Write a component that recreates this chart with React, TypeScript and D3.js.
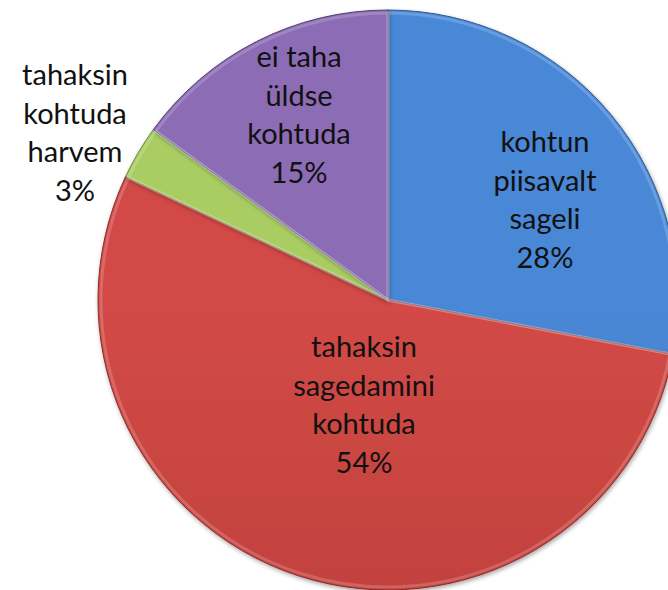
import React, { useEffect, useRef } from "react";
import * as d3 from "d3";

// Slice data, clockwise from 12 o'clock
const categories = [
  ["kohtun", "piisavalt", "sageli"],
  ["tahaksin", "sagedamini", "kohtuda"],
  ["tahaksin", "kohtuda", "harvem"],
  ["ei taha", "üldse", "kohtuda"],
];
const values = [28, 54, 3, 15];
const percentLabels = ["28%", "54%", "3%", "15%"];

const colorsTop = ["#4a88d6", "#d24a46", "#a9cd62", "#8c6cb4"];
const colorsBottom = ["#3a6cb0", "#b23936", "#8fae4c", "#6f559a"];
const colorsEdge = ["#2d5a94", "#8e2b29", "#6e8a38", "#523f75"];

const W = 668;
const H = 590;

const App = () => {
  const ref = useRef<SVGSVGElement>(null);

  useEffect(() => {
    const svg = d3.select(ref.current);
    svg.selectAll("*").remove();

    const cx = 388;
    const cy = 300;
    const r = 290;

    const defs = svg.append("defs");
    values.forEach((_, i) => {
      const g = defs
        .append("linearGradient")
        .attr("id", "grad" + i)
        .attr("gradientUnits", "userSpaceOnUse")
        .attr("x1", 0)
        .attr("y1", cy - r)
        .attr("x2", 0)
        .attr("y2", cy + r);
      g.append("stop").attr("offset", "0%").attr("stop-color", colorsTop[i]);
      g.append("stop").attr("offset", "100%").attr("stop-color", colorsBottom[i]);
    });
    const f = defs
      .append("filter")
      .attr("id", "shadow")
      .attr("x", "-10%")
      .attr("y", "-10%")
      .attr("width", "120%")
      .attr("height", "120%");
    f.append("feDropShadow")
      .attr("dx", 1)
      .attr("dy", 2)
      .attr("stdDeviation", 2)
      .attr("flood-color", "#000")
      .attr("flood-opacity", 0.35);

    const pie = d3
      .pie<number>()
      .sort(null)
      .value((d) => d)
      .startAngle(0)
      .endAngle(2 * Math.PI);
    const arcs = pie(values);

    const arc = d3.arc<d3.PieArcDatum<number>>().innerRadius(0).outerRadius(r);
    const bevel = d3
      .arc<d3.PieArcDatum<number>>()
      .innerRadius(0)
      .outerRadius(r - 3);

    const g = svg.append("g").attr("transform", `translate(${cx},${cy})`);

    g.selectAll("path.slice")
      .data(arcs)
      .join("path")
      .attr("class", "slice")
      .attr("d", arc)
      .attr("fill", (_, i) => `url(#grad${i})`)
      .attr("stroke", (_, i) => colorsEdge[i])
      .attr("stroke-width", 1)
      .attr("filter", "url(#shadow)");

    // soft bevel highlight
    g.selectAll("path.bevel")
      .data(arcs)
      .join("path")
      .attr("class", "bevel")
      .attr("d", bevel)
      .attr("fill", "none")
      .attr("stroke", "#ffffff")
      .attr("stroke-opacity", 0.18)
      .attr("stroke-width", 3);

    // label anchors: first baseline position relative to pie center
    const labelPos: [number, number][] = [
      [545 - cx, 152 - cy],
      [364 - cx, 357 - cy],
      [75 - cx, 85 - cy],
      [299 - cx, 67 - cy],
    ];
    const lineH = 38.7;

    arcs.forEach((a, i) => {
      const [lx, ly] = labelPos[i];
      const lines = [...categories[i], percentLabels[i]];
      const t = g
        .append("text")
        .attr("text-anchor", "middle")
        .attr("font-family", "Lato, 'Open Sans', sans-serif")
        .attr("font-size", 29)
        .attr("fill", "#111");
      lines.forEach((s, k) => {
        t.append("tspan")
          .attr("x", lx)
          .attr("y", ly + k * lineH)
          .text(s);
      });
    });
  }, []);

  return (
    <svg
      ref={ref}
      width={W}
      height={H}
      style={{ position: "absolute", left: 0, top: 0, background: "#fff" }}
    />
  );
};

export default App;
